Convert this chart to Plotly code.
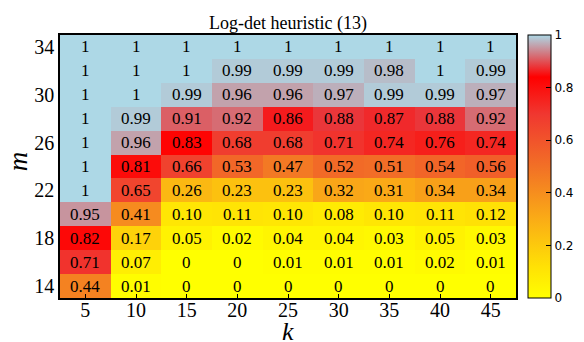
import plotly.graph_objects as go

k_vals = [5, 10, 15, 20, 25, 30, 35, 40, 45]
m_vals = [14, 16, 18, 20, 22, 24, 26, 28, 30, 32, 34]

# rows ordered by m ascending (14 .. 34)
row_m14 = [0.44, 0.01, 0, 0, 0, 0, 0, 0, 0]
row_m16 = [0.71, 0.07, 0, 0, 0.01, 0.01, 0.01, 0.02, 0.01]
row_m18 = [0.82, 0.17, 0.05, 0.02, 0.04, 0.04, 0.03, 0.05, 0.03]
row_m20 = [0.95, 0.41, 0.10, 0.11, 0.10, 0.08, 0.10, 0.11, 0.12]
row_m22 = [1, 0.65, 0.26, 0.23, 0.23, 0.32, 0.31, 0.34, 0.34]
row_m24 = [1, 0.81, 0.66, 0.53, 0.47, 0.52, 0.51, 0.54, 0.56]
row_m26 = [1, 0.96, 0.83, 0.68, 0.68, 0.71, 0.74, 0.76, 0.74]
row_m28 = [1, 0.99, 0.91, 0.92, 0.86, 0.88, 0.87, 0.88, 0.92]
row_m30 = [1, 1, 0.99, 0.96, 0.96, 0.97, 0.99, 0.99, 0.97]
row_m32 = [1, 1, 1, 0.99, 0.99, 0.99, 0.98, 1, 0.99]
row_m34 = [1, 1, 1, 1, 1, 1, 1, 1, 1]

z = [row_m14, row_m16, row_m18, row_m20, row_m22, row_m24,
     row_m26, row_m28, row_m30, row_m32, row_m34]

y_tickvals = [14, 18, 22, 26, 30, 34]
cbar_tickvals = [0, 0.2, 0.4, 0.6, 0.8, 1]
cbar_ticktext = ["0", "0.2", "0.4", "0.6", "0.8", "1"]


def fmt(v):
    if v == 1:
        return "1"
    if v == 0:
        return "0"
    return f"{v:.2f}"


colorscale = [
    [0.0, "rgb(255,255,0)"],
    [0.12, "rgb(255,225,5)"],
    [0.3, "rgb(250,172,22)"],
    [0.5, "rgb(242,112,38)"],
    [0.7, "rgb(240,55,48)"],
    [0.84, "rgb(255,0,0)"],
    [1.0, "rgb(173,216,230)"],
]

serif = "Liberation Serif, Times New Roman, serif"

fig = go.Figure(go.Heatmap(
    x=k_vals, y=m_vals, z=z,
    colorscale=colorscale, zmin=0, zmax=1,
    colorbar=dict(
        x=1.026, xanchor="left", y=0.5, yanchor="middle",
        len=1.0, lenmode="fraction", thickness=23,
        outlinewidth=1, outlinecolor="black",
        tickvals=cbar_tickvals, ticktext=cbar_ticktext,
        ticks="inside", ticklen=5, tickcolor="black",
        tickfont=dict(family="DejaVu Sans", size=12, color="black"),
        ypad=0, xpad=0,
    ),
    hoverinfo="skip",
))

annotations = []
for i, m in enumerate(m_vals):
    for j, k in enumerate(k_vals):
        annotations.append(dict(
            x=k, y=m, xref="x", yref="y", text=fmt(z[i][j]),
            showarrow=False,
            font=dict(family=serif, size=17, color="black"),
        ))

# axis titles
annotations.append(dict(
    text="<i>k</i>", x=0.5, y=-0.129, xref="paper", yref="paper",
    xanchor="center", yanchor="middle", showarrow=False,
    font=dict(family=serif, size=26, color="black"),
))
annotations.append(dict(
    text="<i>m</i>", x=-0.092, y=0.52, xref="paper", yref="paper",
    xanchor="center", yanchor="middle", showarrow=False, textangle=-90,
    font=dict(family=serif, size=27, color="black"),
))

fig.update_layout(
    width=584, height=342,
    margin=dict(l=60, r=68, t=35, b=44, autoexpand=False),
    paper_bgcolor="white", plot_bgcolor="white",
    annotations=annotations,
    title=dict(text="Log-det heuristic (13)", x=0.5, xanchor="center",
               xref="paper", y=0.935, yanchor="middle",
               font=dict(family=serif, size=18, color="black")),
    xaxis=dict(
        tickvals=k_vals, range=[2.5, 47.5], automargin=False,
        showline=True, mirror=True, linecolor="black", linewidth=1.5,
        ticks="inside", ticklen=4, tickcolor="black", tickwidth=1,
        showgrid=False, zeroline=False,
        ticklabelstandoff=-7,
        tickfont=dict(family=serif, size=20, color="black"),
    ),
    yaxis=dict(
        tickvals=y_tickvals, range=[13, 35], automargin=False,
        showline=True, mirror=True, linecolor="black", linewidth=1.5,
        ticks="", showgrid=False, zeroline=False,
        tickfont=dict(family=serif, size=20, color="black"),
    ),
)

fig.write_html("out.html")
